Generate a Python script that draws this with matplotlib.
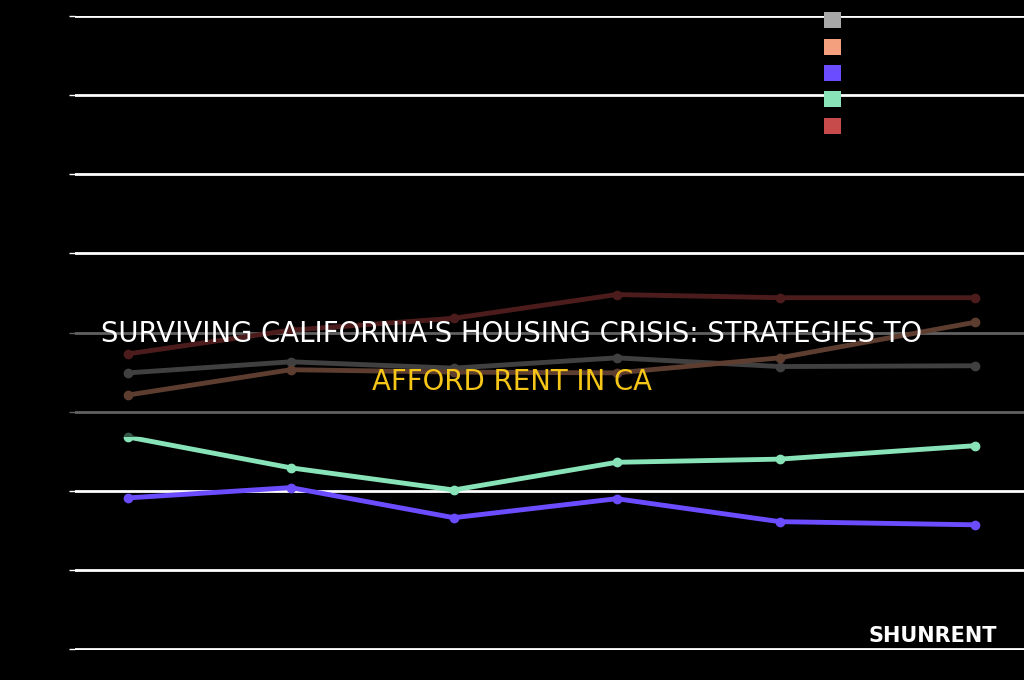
import matplotlib.pyplot as plt
from matplotlib.patches import Patch, Rectangle

x_pos = [0, 1, 2, 3, 4, 5.2]
series_names = ['Series A', 'Series B', 'Series C', 'Series D', 'Series E']
series_colors = ['#a9a9a9', '#f4a07e', '#6b4cff', '#88e3b8', '#c84b4b']
values = {
  'Series A': [3.49, 3.63, 3.55, 3.68, 3.57, 3.58],
  'Series B': [3.21, 3.53, 3.50, 3.49, 3.68, 4.13],
  'Series C': [1.91, 2.04, 1.66, 1.90, 1.61, 1.57],
  'Series D': [2.68, 2.29, 2.01, 2.36, 2.40, 2.57],
  'Series E': [3.73, 4.03, 4.18, 4.48, 4.44, 4.44],
}

fig = plt.figure(figsize=(10.24, 6.8), dpi=100, facecolor='black')
ax = fig.add_axes([75 / 1024, 30 / 680, 949 / 1024, 634 / 680])
ax.set_facecolor('black')
ax.set_xlim(-0.325, 5.5)
ax.set_ylim(-0.012, 8)
ax.set_yticks(range(0, 9))
ax.set_xticks([])
ax.yaxis.grid(True, color='white', linewidth=2)
ax.tick_params(axis='y', colors='white', labelcolor='black', length=4, width=1)
for s in ax.spines.values():
  s.set_visible(False)

for name, col in zip(series_names, series_colors):
  ax.plot(x_pos, values[name], color=col, linewidth=3.5, marker='o', markersize=6, zorder=3)

# dim band behind the title
fig.patches.append(Rectangle((0, 243 / 680), 1, 152 / 680, transform=fig.transFigure,
                             facecolor='black', alpha=0.62, zorder=5))

handles = [Patch(facecolor=c) for c in series_colors]
leg = fig.legend(handles, series_names, loc='upper left', bbox_to_anchor=(808 / 1024, 1.006),
                 frameon=False, labelcolor='none', handlelength=0.95, handleheight=1.0,
                 handletextpad=0.5, labelspacing=0.45, fontsize=13)

fig.text(0.5, 1 - 334 / 680, "SURVIVING CALIFORNIA'S HOUSING CRISIS: STRATEGIES TO",
         color='white', fontsize=19.8, ha='center', va='center', zorder=10)
fig.text(0.5, 1 - 382 / 680, "AFFORD RENT IN CA", color='#f5c518', fontsize=19.8,
         ha='center', va='center', zorder=10)
fig.text(933 / 1024, 1 - 636 / 680, "SHUNRENT", color='white', fontsize=15,
         fontweight='bold', ha='center', va='center', zorder=10)

fig.savefig('out.png', dpi=100, facecolor='black')
